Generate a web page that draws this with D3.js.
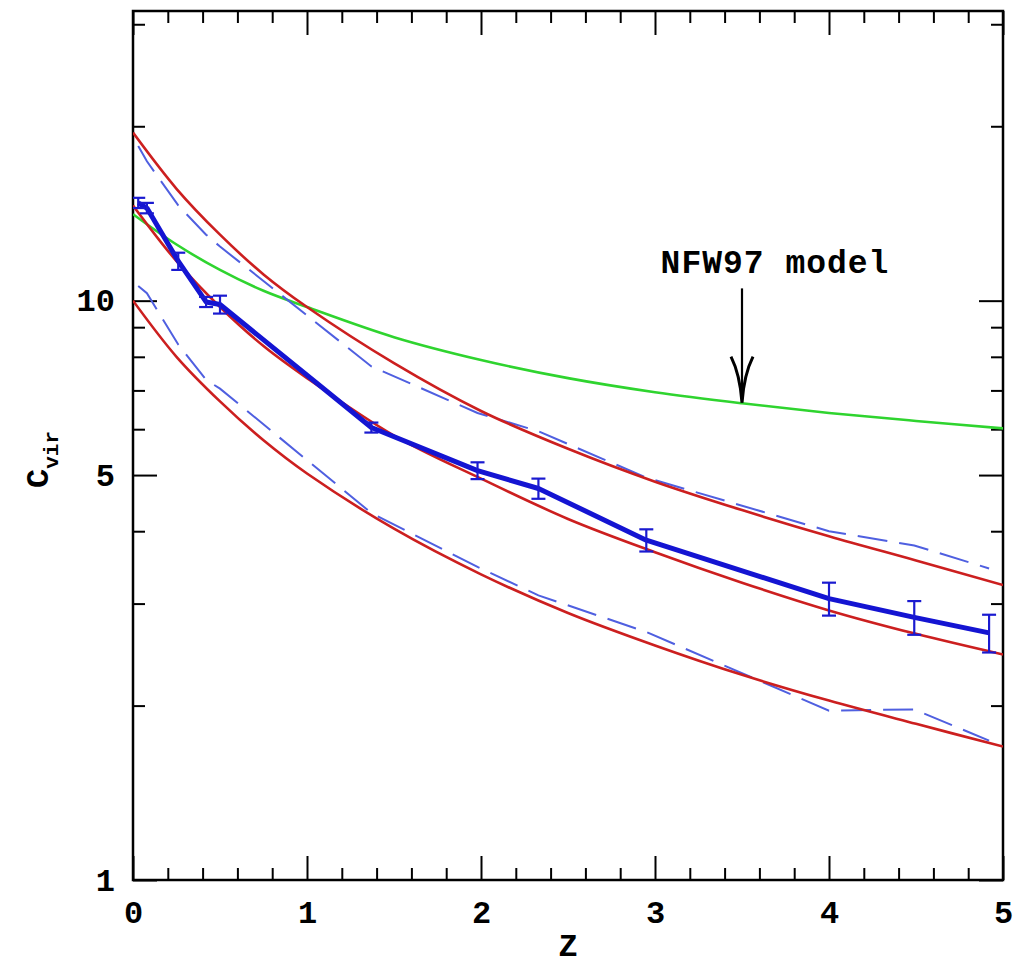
<!DOCTYPE html>
<html>
<head>
<meta charset="utf-8">
<script src="https://cdn.jsdelivr.net/npm/d3@7"></script>
<style>
  html, body { margin: 0; padding: 0; background: #fff; }
  svg { display: block; }
  .lbl { font-family: "Liberation Mono", "DejaVu Sans Mono", monospace; font-weight: bold; fill: #000; }
</style>
</head>
<body>
<svg id="chart" width="1017" height="970"></svg>
<script>
// ---- data ----
const zSim   = [0.03, 0.08, 0.26, 0.42, 0.50, 1.37, 1.98, 2.33, 2.95, 4.00, 4.49, 4.92];
const cMean  = [14.75, 14.45, 11.7, 9.95, 9.85, 6.04, 5.09, 4.74, 3.86, 3.06, 2.84, 2.67];
const cErr   = [0.30, 0.30, 0.40, 0.20, 0.35, 0.12, 0.17, 0.19, 0.17, 0.20, 0.19, 0.20];
const cUpperSim = [18.5, 17.4, 14.6, 13.0, 12.4, 7.7, 6.4, 5.95, 4.95, 4.0, 3.78, 3.45];
const cLowerSim = [10.6, 10.3, 8.4, 7.3, 7.05, 4.3, 3.47, 3.1, 2.68, 1.96, 1.97, 1.74];

const zModel   = [0, 0.25, 0.5, 0.75, 1, 1.5, 2, 2.5, 3, 3.5, 4, 4.5, 5];
const redTop   = [19.5, 15.6, 13.0, 11.1, 9.75, 7.8, 6.45, 5.55, 4.87, 4.35, 3.92, 3.56, 3.23];
const redMid   = [14.6, 11.7, 9.75, 8.35, 7.35, 5.85, 4.93, 4.2, 3.68, 3.26, 2.92, 2.66, 2.45];
const redLow   = [10.0, 8.0, 6.7, 5.74, 5.03, 4.04, 3.37, 2.89, 2.54, 2.26, 2.04, 1.86, 1.70];
const nfw97    = [14.1, 12.5, 11.3, 10.4, 9.75, 8.65, 7.9, 7.35, 6.95, 6.65, 6.4, 6.2, 6.02];

const xTickLabels = [0, 1, 2, 3, 4, 5];
const xMinorTicks = d3.range(0, 5.001, 0.2).filter(v => Math.abs(v - Math.round(v)) > 1e-6);
const yTickLabels = [1, 5, 10];
const yMinorTicks = [2, 3, 4, 6, 7, 8, 9, 20, 30];

const arrowZ = 3.5, arrowTopC = 10.5, arrowTipC = 6.67;
const annotationText = "NFW97 model";

// ---- layout ----
const L = 133, R = 1003, T = 11, B = 880;
const svg = d3.select("#chart");
svg.append("rect").attr("width", 1017).attr("height", 970).attr("fill", "#fff");

const x = d3.scaleLinear().domain([0, 5]).range([L, R]);
const y = d3.scaleLog().domain([1, Math.pow(10, 1.5)]).range([B, T]);

const majorLen = 24, minorLen = 12;
const tickFmt = d3.format("d");

function styleAxis(g) {
  g.select(".domain").remove();
  g.selectAll(".tick line").attr("stroke", "#000").attr("stroke-width", 2);
  g.selectAll(".tick text").attr("class", "lbl").attr("font-size", 32).attr("fill", "#000");
}

// bottom
svg.append("g").attr("transform", `translate(0,${B})`)
  .call(d3.axisBottom(x).tickValues(xTickLabels).tickSize(-majorLen).tickPadding(20).tickFormat(tickFmt))
  .call(styleAxis);
svg.append("g").attr("transform", `translate(0,${B})`)
  .call(d3.axisBottom(x).tickValues(xMinorTicks).tickSize(-minorLen).tickFormat(""))
  .call(styleAxis);
// top
svg.append("g").attr("transform", `translate(0,${T})`)
  .call(d3.axisTop(x).tickValues(xTickLabels).tickSize(-majorLen).tickFormat(""))
  .call(styleAxis);
svg.append("g").attr("transform", `translate(0,${T})`)
  .call(d3.axisTop(x).tickValues(xMinorTicks).tickSize(-minorLen).tickFormat(""))
  .call(styleAxis);
// left
svg.append("g").attr("transform", `translate(${L},0)`)
  .call(d3.axisLeft(y).tickValues(yTickLabels).tickSize(-majorLen).tickPadding(18).tickFormat(tickFmt))
  .call(styleAxis);
svg.append("g").attr("transform", `translate(${L},0)`)
  .call(d3.axisLeft(y).tickValues(yMinorTicks).tickSize(-minorLen).tickFormat(""))
  .call(styleAxis);
// right
svg.append("g").attr("transform", `translate(${R},0)`)
  .call(d3.axisRight(y).tickValues(yTickLabels).tickSize(-majorLen).tickFormat(""))
  .call(styleAxis);
svg.append("g").attr("transform", `translate(${R},0)`)
  .call(d3.axisRight(y).tickValues(yMinorTicks).tickSize(-minorLen).tickFormat(""))
  .call(styleAxis);

// frame
svg.append("rect").attr("x", L).attr("y", T).attr("width", R - L).attr("height", B - T)
  .attr("fill", "none").attr("stroke", "#000").attr("stroke-width", 2.5);

// clip
svg.append("clipPath").attr("id", "clip").append("rect")
  .attr("x", L).attr("y", T).attr("width", R - L).attr("height", B - T);
const plot = svg.append("g").attr("clip-path", "url(#clip)");

const smooth = d3.line().x(d => x(d[0])).y(d => y(d[1])).curve(d3.curveCatmullRom.alpha(0.5));
const straight = d3.line().x(d => x(d[0])).y(d => y(d[1]));
const zip = (a, b) => a.map((v, i) => [v, b[i]]);

// green NFW97
plot.append("path").attr("d", smooth(zip(zModel, nfw97)))
  .attr("fill", "none").attr("stroke", "#2fd42f").attr("stroke-width", 2.6);

// blue dashed simulation spreads
[cUpperSim, cLowerSim].forEach(arr => {
  plot.append("path").attr("d", straight(zip(zSim, arr)))
    .attr("fill", "none").attr("stroke", "#4f5fe0").attr("stroke-width", 2)
    .attr("stroke-dasharray", "30,12");
});

// red model curves
[redTop, redMid, redLow].forEach(arr => {
  plot.append("path").attr("d", smooth(zip(zModel, arr)))
    .attr("fill", "none").attr("stroke", "#cc1f1f").attr("stroke-width", 2.6);
});

// thick blue mean
plot.append("path").attr("d", straight(zip(zSim, cMean)))
  .attr("fill", "none").attr("stroke", "#1414d2").attr("stroke-width", 5)
  .attr("stroke-linejoin", "round");

// error bars
const eb = plot.append("g").attr("stroke", "#1a1ad0").attr("stroke-width", 2.2);
zSim.forEach((z, i) => {
  const cx = x(z), y1 = y(cMean[i] + cErr[i]), y2 = y(cMean[i] - cErr[i]);
  eb.append("line").attr("x1", cx).attr("x2", cx).attr("y1", y1).attr("y2", y2);
  eb.append("line").attr("x1", cx - 7).attr("x2", cx + 7).attr("y1", y1).attr("y2", y1);
  eb.append("line").attr("x1", cx - 7).attr("x2", cx + 7).attr("y1", y2).attr("y2", y2);
});

// annotation arrow
const ax = x(arrowZ), ayTop = y(arrowTopC), ayTip = y(arrowTipC);
svg.append("line").attr("x1", ax).attr("x2", ax).attr("y1", ayTop).attr("y2", ayTip)
  .attr("stroke", "#000").attr("stroke-width", 2.2);
svg.append("path")
  .attr("d", `M${ax - 11},${ayTip - 46} Q${ax - 2},${ayTip - 28} ${ax},${ayTip} Q${ax + 2},${ayTip - 28} ${ax + 11},${ayTip - 46}`)
  .attr("fill", "none").attr("stroke", "#000").attr("stroke-width", 3);
svg.append("text").attr("class", "lbl").attr("font-size", 33)
  .attr("x", ax + 33).attr("y", ayTop - 15).attr("text-anchor", "middle")
  .attr("letter-spacing", 1).text(annotationText);

// axis titles
svg.append("text").attr("class", "lbl").attr("font-size", 32)
  .attr("x", (L + R) / 2).attr("y", 956).attr("text-anchor", "middle").text("Z");

const yl = svg.append("text").attr("class", "lbl").attr("font-size", 32)
  .attr("transform", "translate(48,488) rotate(-90)");
yl.append("tspan").text("C");
yl.append("tspan").attr("font-size", 21).attr("dy", 10).text("vir");
</script>
</body>
</html>
